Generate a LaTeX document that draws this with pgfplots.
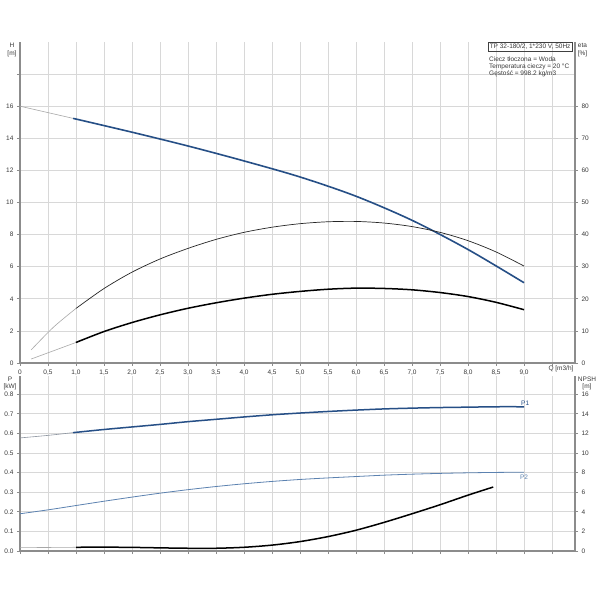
\documentclass[border=0pt]{standalone}
\usepackage{fontspec}
\setmainfont{Liberation Sans}
\usepackage{pgfplots}
\pgfplotsset{compat=1.18}
\definecolor{gridc}{HTML}{D8D8D8}
\definecolor{axc}{HTML}{8C8C8C}
\definecolor{hblue}{HTML}{264F86}
\definecolor{p2blue}{HTML}{5C82B0}
\definecolor{thinc}{HTML}{A8A8A8}
\definecolor{txt}{HTML}{3A3A3A}
\pgfplotsset{
  base/.style={
    scale only axis, width=555pt,
    xmin=0, xmax=9.91,
    axis line style={-, axc, line width=1.4pt},
    major grid style={gridc, line width=0.7pt},
    tick style={axc, line width=0.7pt},
    tick align=outside, major tick length=3pt,
    ticklabel style={txt, font=\fontsize{6.5}{7.5}\selectfont},
    /pgf/number format/assume math mode=true,
    xtick={0,0.5,1,1.5,2,2.5,3,3.5,4,4.5,5,5.5,6,6.5,7,7.5,8,8.5,9,9.5},
  }
}
\begin{document}
\begin{tikzpicture}[font=\fontsize{6.5}{7.5}\selectfont]
\path[use as bounding box, fill=white] (0pt,0pt) rectangle (600pt,600pt);
% ---------------- top: H ----------------
\begin{axis}[base, at={(20pt,237pt)}, anchor=south west, height=321pt,
  ymin=0, ymax=20, axis x line*=bottom, axis y line*=left,
  grid=major,
  xticklabels={0,{0,5},{1,0},{1,5},{2,0},{2,5},{3,0},{3,5},{4,0},{4,5},{5,0},{5,5},{6,0},{6,5},{7,0},{7,5},{8,0},{8,5},{9,0},{}},
  ytick={0,2,4,6,8,10,12,14,16,18}, yticklabels={0,2,4,6,8,10,12,14,16,{}},
]
\addplot[thinc, line width=0.6pt] coordinates {(0,16) (0.95,15.24)};
\addplot[hblue, line width=1.6pt, smooth] coordinates {
(0.95,15.24) (2,14.38) (3,13.52) (4,12.59) (5,11.59) (6,10.39) (7,8.89)
(8,7.07) (9,5.0)};
\end{axis}
% ---------------- top: eta ----------------
\begin{axis}[base, at={(20pt,237pt)}, anchor=south west, height=321pt,
  ymin=0, ymax=100, axis y line*=right, axis x line=none,
  ytick={0,10,20,30,40,50,60,70,80},
]
\addplot[thinc, line width=0.6pt, smooth] coordinates {(0.2,4.1) (0.6,11.2) (1,17.0)};
\addplot[black!85, line width=0.7pt, smooth] coordinates {
(1,17.0) (1.5,23.2) (2,28.3) (2.5,32.4) (3,35.7) (3.5,38.5) (4,40.7) (4.5,42.3)
(5,43.4) (5.5,44.0) (6,44.1) (6.5,43.6) (7,42.5) (7.5,40.7) (8,38.1) (8.5,34.6) (9,30.2)};
\addplot[thinc, line width=0.6pt] coordinates {(0.2,1.24) (1,6.4)};
\addplot[black, line width=1.5pt, smooth] coordinates {
(1,6.4) (1.5,9.8) (2,12.6) (2.5,15.0) (3,17.05) (3.5,18.75) (4,20.2) (4.5,21.4)
(5,22.3) (5.5,22.98) (6,23.32) (6.5,23.22) (7,22.8) (7.5,21.95) (8,20.7) (8.5,18.9) (9,16.6)};
\end{axis}
% ---------------- bottom: P ----------------
\begin{axis}[base, at={(20pt,49pt)}, anchor=south west, height=175pt,
  ymin=0, ymax=0.893, axis x line*=bottom, axis y line*=left,
  grid=major, xticklabels={},
  ytick={0,0.1,0.2,0.3,0.4,0.5,0.6,0.7,0.8},
  yticklabels={0.0,0.1,0.2,0.3,0.4,0.5,0.6,0.7,0.8},
]
\addplot[thinc!80!hblue, line width=0.6pt, smooth] coordinates {(0,0.577) (0.5,0.59) (0.95,0.604)};
\addplot[hblue, line width=1.5pt, smooth] coordinates {
(0.95,0.604) (1.5,0.62) (2,0.633) (2.5,0.646) (3,0.66) (3.5,0.672) (4,0.684)
(4.5,0.695) (5,0.704) (5.5,0.712) (6,0.719) (6.5,0.725) (7,0.729) (7.5,0.732)
(8,0.734) (8.5,0.736) (9,0.736)};
\addplot[p2blue, line width=0.8pt, smooth] coordinates {
(0,0.19) (0.5,0.21) (1,0.232) (1.5,0.254) (2,0.275) (2.5,0.295) (3,0.313) (3.5,0.329)
(4,0.343) (4.5,0.355) (5,0.365) (5.5,0.373) (6,0.38) (6.5,0.387) (7,0.392)
(7.5,0.396) (8,0.399) (8.5,0.401) (9,0.402)};
\node[hblue, font=\fontsize{6.5}{7.5}\selectfont] at (axis cs:9.02,0.752) {P1};
\node[p2blue, font=\fontsize{6.5}{7.5}\selectfont] at (axis cs:9.0,0.374) {P2};
\end{axis}
% ---------------- bottom: NPSH ----------------
\begin{axis}[base, at={(20pt,49pt)}, anchor=south west, height=175pt,
  ymin=0, ymax=17.86, axis y line*=right, axis x line=none,
  ytick={0,2,4,6,8,10,12,14,16},
]
\addplot[thinc, line width=0.6pt] coordinates {(0,0.34) (1,0.38)};
\addplot[black, line width=1.5pt, smooth] coordinates {
(1,0.38) (1.5,0.39) (2,0.37) (2.5,0.32) (3,0.28) (3.5,0.28) (4,0.38) (4.5,0.6)
(5,0.96) (5.5,1.47) (6,2.12) (6.5,2.92) (7,3.8) (7.5,4.72) (8,5.7) (8.45,6.53)};
\end{axis}
% ---------------- labels ----------------
\begin{scope}[every node/.style={txt, inner sep=0pt, font=\fontsize{6.5}{7.5}\selectfont}]
\node at (12pt,555pt) {H};
\node at (12pt,546pt) {[m]};
\node at (582.5pt,554.5pt) {eta};
\node at (582.5pt,546pt) {[\%]};
\node at (10pt,221pt) {P};
\node at (10pt,213.5pt) {[kW]};
\node at (587pt,221pt) {NPSH};
\node at (587pt,213.5pt) {[m]};
\node at (561pt,231pt) {Q [m3/h]};
\node[draw=black!75, line width=0.5pt, inner sep=1.5pt, anchor=north west] at (488pt,558pt) {TP 32-180/2, 1*230 V, 50Hz};
\node[anchor=west] at (489pt,540.7pt) {Ciecz tłoczona = Woda};
\node[anchor=west] at (489pt,533.3pt) {Temperatura cieczy = 20 °C};
\node[anchor=west] at (489pt,526pt) {Gęstość = 998.2 kg/m3};
\end{scope}
\end{tikzpicture}
\end{document}
